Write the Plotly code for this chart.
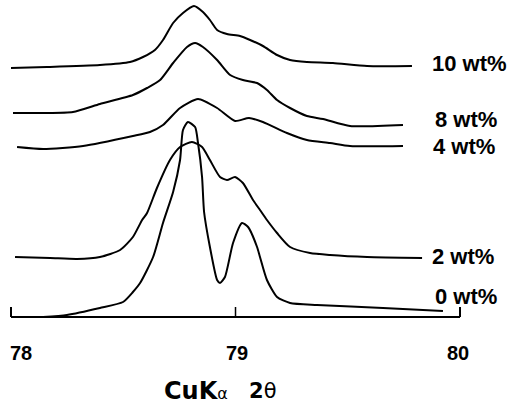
import plotly.graph_objects as go

# 2-theta (deg) and relative intensity (arbitrary units)
x_10 = [78.00, 78.160, 78.396, 78.530, 78.588, 78.641, 78.677, 78.722, 78.766, 78.815, 78.855,
        78.886, 78.918, 78.962, 79.020, 79.065, 79.122, 79.185, 79.243, 79.318, 79.434, 79.586, 79.786]
y_10 = [249, 250, 252, 255, 260, 267, 277, 294, 304, 311, 305, 297, 287, 283, 281, 277, 271, 262,
        257, 255, 254, 251, 251]

x_8 = [78.009, 78.143, 78.276, 78.396, 78.543, 78.606, 78.664, 78.722, 78.784, 78.820, 78.855,
       78.918, 78.976, 79.033, 79.096, 79.140, 79.185, 79.243, 79.318, 79.390, 79.510, 79.746]
y_8 = [204, 204, 205, 213, 222, 229, 237, 254, 270, 274, 270, 257, 242, 237, 234, 227, 217, 209,
       201, 198, 191, 192]

x_4 = [78.027, 78.143, 78.321, 78.543, 78.619, 78.677, 78.753, 78.833, 78.918, 78.998, 79.060,
       79.122, 79.229, 79.318, 79.421, 79.510, 79.746]
y_4 = [170, 168, 171, 181, 185, 192, 209, 218, 209, 196, 199, 195, 184, 177, 174, 171, 171]

x_2 = [78.018, 78.174, 78.294, 78.396, 78.486, 78.543, 78.584, 78.606, 78.650, 78.708, 78.753,
       78.806, 78.851, 78.886, 78.931, 78.962, 78.998, 79.033, 79.078, 79.109, 79.140, 79.185,
       79.243, 79.332, 79.421, 79.586, 79.831]
y_2 = [60, 59, 58, 60, 67, 80, 97, 104, 129, 157, 170, 175, 170, 157, 140, 137, 140, 134, 117,
       107, 97, 84, 70, 64, 62, 60, 59]

x_0 = [78.143, 78.249, 78.396, 78.499, 78.543, 78.575, 78.633, 78.677, 78.722, 78.753, 78.766,
       78.788, 78.820, 78.833, 78.851, 78.860, 78.886, 78.918, 78.931, 78.953, 78.989, 79.029,
       79.056, 79.096, 79.109, 79.140, 79.185, 79.243, 79.363, 79.657, 79.924]
y_0 = [0, 2, 9, 15, 25, 34, 60, 94, 125, 157, 187, 195, 190, 174, 140, 105, 70, 37, 34, 40, 74,
       94, 90, 70, 60, 37, 20, 14, 12, 9, 6]

series = [
    ("10 wt%", x_10, y_10),
    ("8 wt%", x_8, y_8),
    ("4 wt%", x_4, y_4),
    ("2 wt%", x_2, y_2),
    ("0 wt%", x_0, y_0),
]
# label anchor points (2theta, intensity)
label_pos = {
    "10 wt%": (79.870, 254),
    "8 wt%": (79.882, 198),
    "4 wt%": (79.874, 171),
    "2 wt%": (79.870, 61),
    "0 wt%": (79.882, 21),
}
tick_vals = [78, 79, 80]
tick_text = ["78", "79", "80"]
tick_label_x = [78.045, 79.007, 79.991]

LABEL_FONT = "Liberation Sans"
TITLE_FONT = "DejaVu Sans"
BLACK = "black"

fig = go.Figure()
for name, xs, ys in series:
    fig.add_trace(go.Scatter(x=xs, y=ys, mode="lines", name=name,
                             line=dict(color=BLACK, width=2, shape="spline", smoothing=0.6),
                             showlegend=False, hoverinfo="skip"))

shapes = [dict(type="line", xref="x", yref="y", x0=tick_vals[0], x1=tick_vals[-1], y0=0, y1=0,
               line=dict(color=BLACK, width=2))]
for tv in tick_vals:
    shapes.append(dict(type="line", xref="x", yref="y", x0=tv, x1=tv, y0=0, y1=10,
                       line=dict(color=BLACK, width=2 if tv != 79 else 1.5)))

annotations = []
for name, _, _ in series:
    lx, ly = label_pos[name]
    annotations.append(dict(x=lx, y=ly, xref="x", yref="y", text="<b>" + name + "</b>",
                            showarrow=False, xanchor="left", yanchor="middle", borderpad=0,
                            font=dict(family=LABEL_FONT, size=22, color=BLACK)))
for tx, tt in zip(tick_label_x, tick_text):
    annotations.append(dict(x=tx, y=-36, xref="x", yref="y", text="<b>" + tt + "</b>",
                            showarrow=False, xanchor="center", yanchor="middle",
                            font=dict(family=LABEL_FONT, size=20, color=BLACK)))
annotations.append(dict(x=78.672, y=-74, xref="x", yref="y",
                        text="<b>CuK</b><span style='font-size:16px'>α</span>",
                        showarrow=False, xanchor="left", yanchor="middle",
                        font=dict(family=TITLE_FONT, size=24, color=BLACK)))
annotations.append(dict(x=79.051, y=-74, xref="x", yref="y", text="<b>2</b>θ",
                        showarrow=False, xanchor="left", yanchor="middle",
                        font=dict(family=TITLE_FONT, size=21, color=BLACK)))

fig.update_layout(
    width=513, height=410,
    margin=dict(l=0, r=0, t=0, b=0, pad=0),
    paper_bgcolor="white", plot_bgcolor="white",
    xaxis=dict(range=[77.951, 80.236], visible=False, showgrid=False, zeroline=False),
    yaxis=dict(range=[-93, 317], visible=False, showgrid=False, zeroline=False),
    shapes=shapes,
    annotations=annotations,
)

fig.write_html("out.html")
